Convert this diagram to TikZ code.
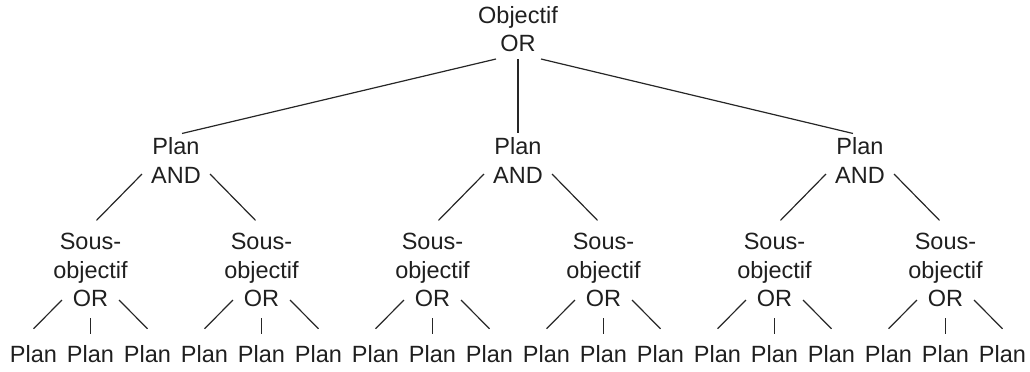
\documentclass[tikz,border=0pt]{standalone}
\usepackage{fontspec}
\setmainfont{Liberation Sans}

\tikzset{
  goal/.style={align=center,inner sep=0pt,outer sep=0pt,anchor=south,
    text=black!88,font=\fontsize{11.75pt}{14.25pt}\selectfont},
}

\begin{document}
\begin{tikzpicture}[x=0.5pt,y=-0.5pt,line width=0.6pt,draw=black!85]
  \useasboundingbox (0,0) rectangle (1030,371);
  % tree levels
  \node[goal] (root) at (518,52) {Objectif\\OR};
  \foreach \k in {0,1,2}
    \node[goal] (plan\k) at ({176+342*\k},183) {Plan\\AND};
  \foreach \j in {0,...,5}
    \node[goal] (sub\j) at ({90.5+171*\j},307) {Sous-\\objectif\\OR};
  \foreach \i in {0,...,17}
    \node[goal] (leaf\i) at ({33.5+57*\i},363) {Plan};
  % objectif -> plans
  \foreach \k/\a/\b in {0/-22/6,1/0/0,2/23/-7}
    \draw ([shift={(\a,7)}]root.south) -- ([shift={(\b,-4)}]plan\k.north);
  % plans -> sous-objectifs
  \foreach \k [evaluate=\k as \l using int(2*\k),
               evaluate=\k as \r using int(2*\k+1)] in {0,1,2} {
    \draw ([shift={(-34,-9)}]plan\k.south) -- ([shift={(6,-13)}]sub\l.north);
    \draw ([shift={(34,-9)}]plan\k.south) -- ([shift={(-6,-13)}]sub\r.north);
  }
  % sous-objectifs -> plans
  \foreach \j [evaluate=\j as \l using int(3*\j),
               evaluate=\j as \m using int(3*\j+1),
               evaluate=\j as \r using int(3*\j+2)] in {0,...,5} {
    \draw ([shift={(-28.5,-7)}]sub\j.south) -- ([shift={(0,-17)}]leaf\l.north);
    \draw ([shift={(0,11)}]sub\j.south) -- ([shift={(0,-12)}]leaf\m.north);
    \draw ([shift={(28.5,-7)}]sub\j.south) -- ([shift={(0,-17)}]leaf\r.north);
  }
\end{tikzpicture}
\end{document}
